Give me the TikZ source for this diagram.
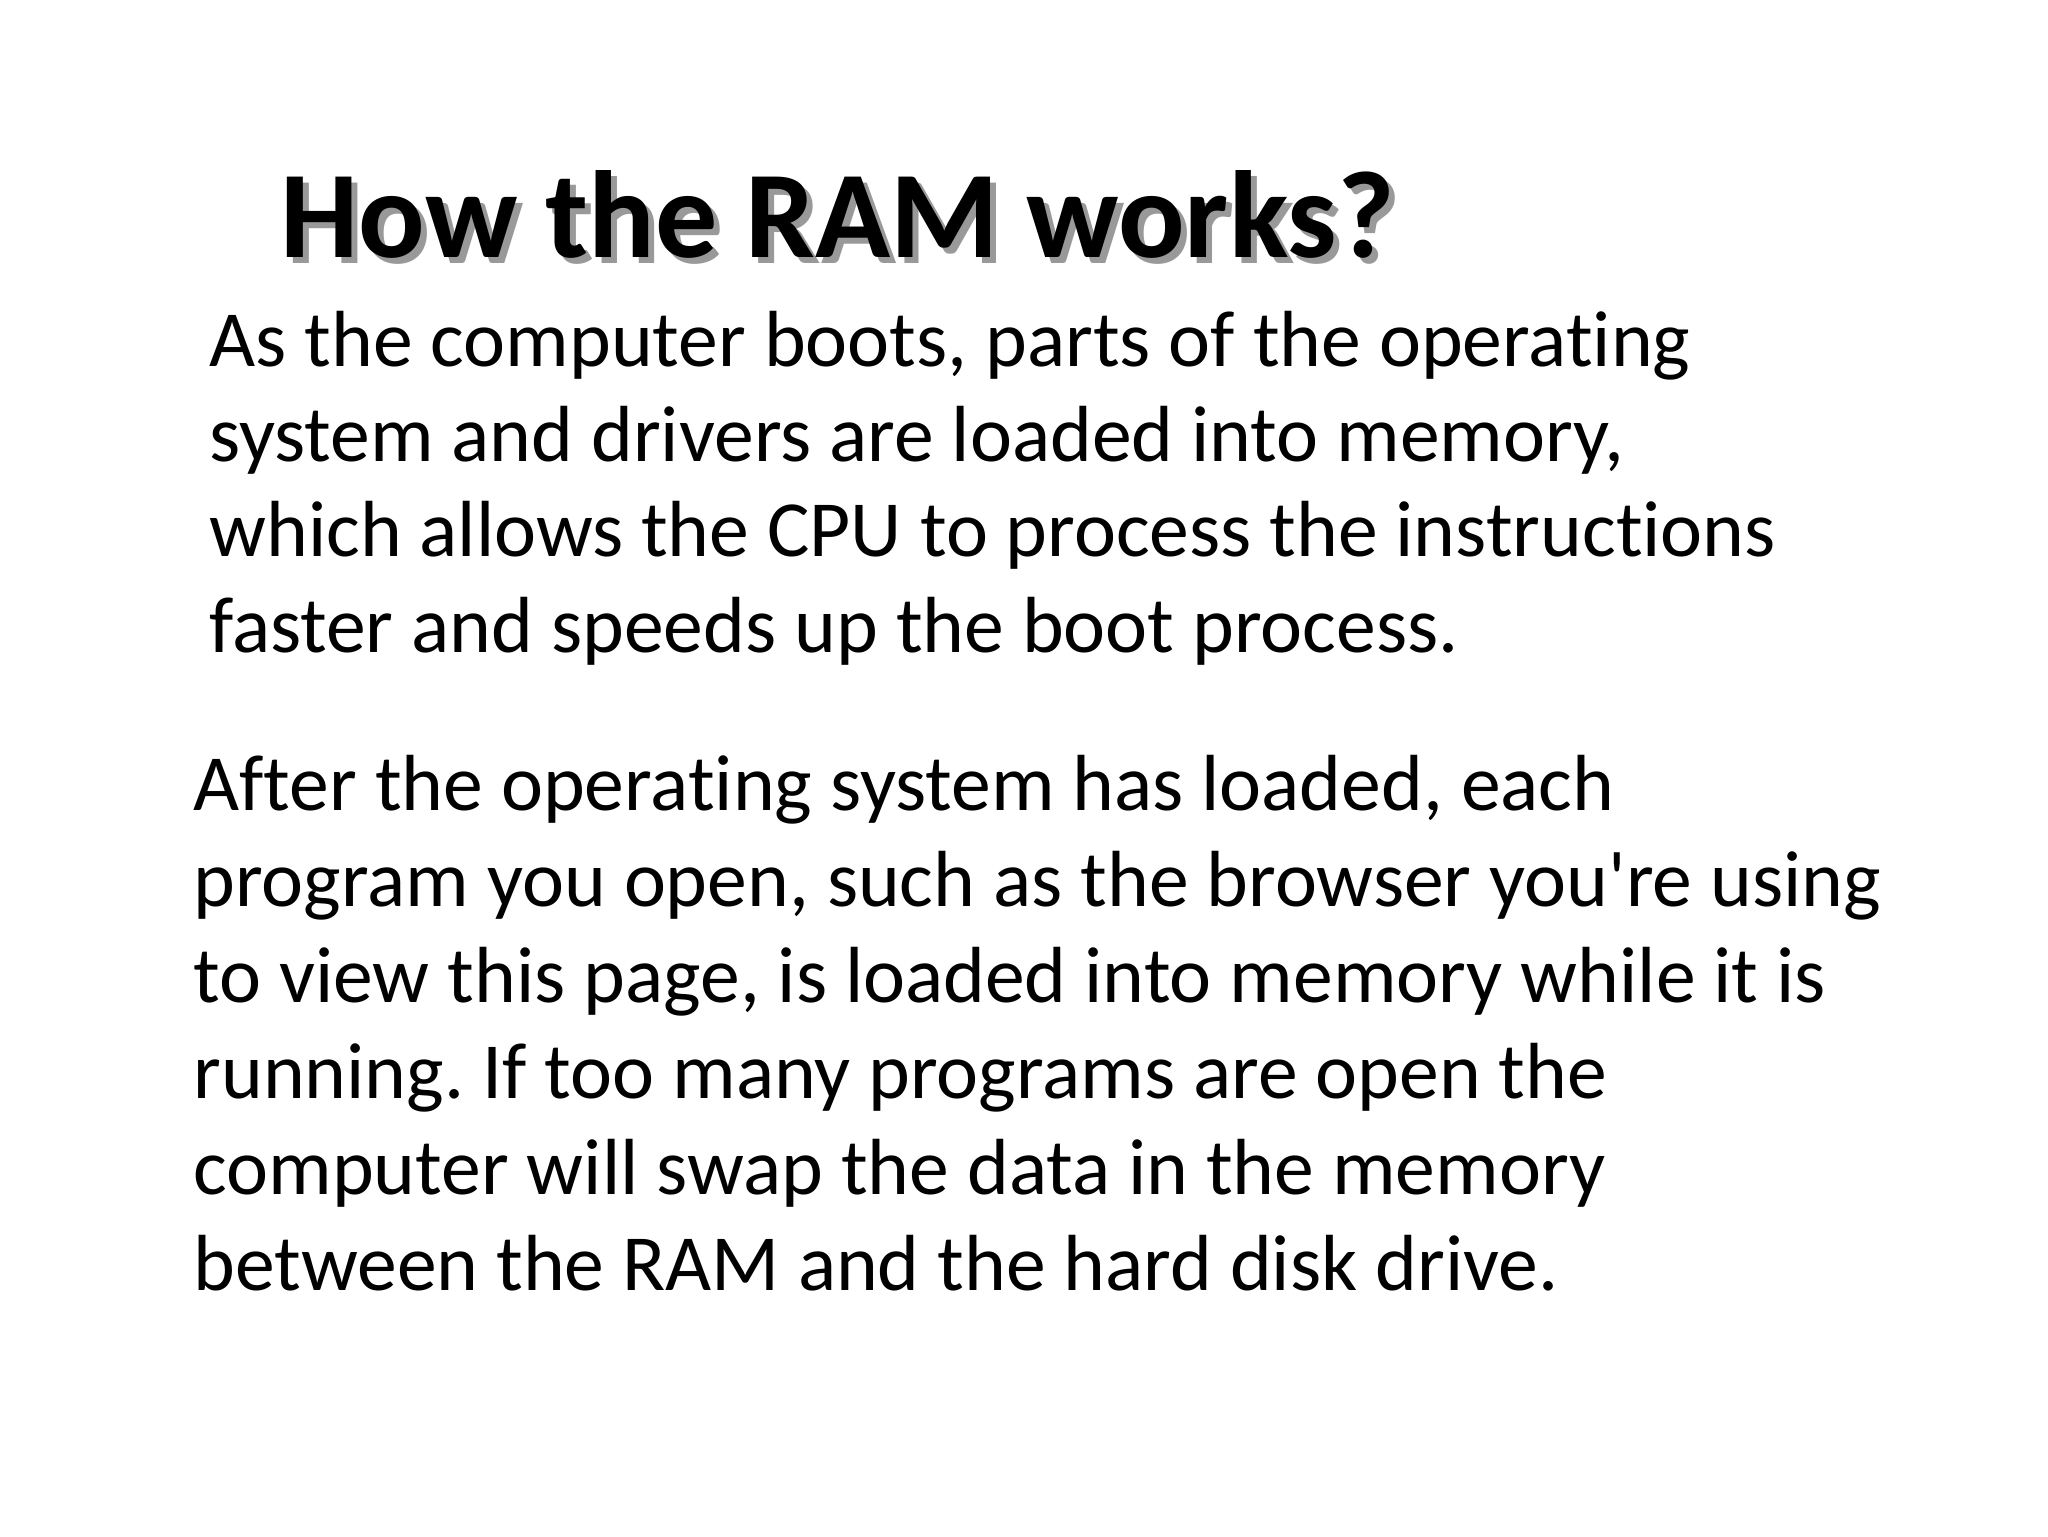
\documentclass[tikz,border=0pt]{standalone}
\usepackage{fontspec}
\defaultfontfeatures{}
\setmainfont[Ligatures=TeXOff,RawFeature={-liga;-clig}]{Carlito}
\frenchspacing
\begin{document}
\begin{tikzpicture}[x=1pt,y=1pt,
  body/.style={anchor=base west,inner sep=0pt,font=\fontsize{39.8}{47}\selectfont\frenchspacing},
  ttl/.style={anchor=base west,inner sep=0pt,font=\fontsize{62}{70}\bfseries\selectfont}]
\fill[white] (0,0) rectangle (1024,-768);
\useasboundingbox (0,0) rectangle (1024,-768);
\node[ttl,text=black!40] (tsh) at (143,-131.5) {How the RAM works?};
\node[ttl] (t) at (140,-128.6) {How the RAM works?};
\foreach \s [count=\i from 0] in {{As the computer boots, parts of the operating},{system and drivers are loaded into memory,},{which allows the CPU to process the instructions},{faster and speeds up the boot process.}}
  \node[body] (a\i) at (104.5,-183-47.7*\i) {\s};
\foreach \s [count=\i from 0] in {{After the operating system has loaded, each},{program you open, such as the browser you're using},{to view this page, is loaded into memory while it is},{running. If too many programs are open the},{computer will swap the data in the memory},{between the RAM and the hard disk drive.}}
  \node[body] (b\i) at (96.6,-405-48*\i) {\s};
\end{tikzpicture}
\end{document}
